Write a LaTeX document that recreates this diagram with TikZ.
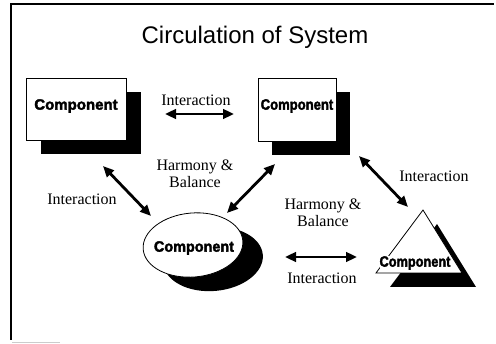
\documentclass[tikz,border=0pt]{standalone}
\usepackage{fontspec}
\setmainfont{Liberation Serif}
\newfontfamily\headfont{Liberation Sans}
\newfontfamily\compfont{Liberation Sans}[BoldFeatures={FakeBold=2.4}]
\usetikzlibrary{arrows.meta,shapes.geometric,shadows}
\begin{document}
\begin{tikzpicture}[x=1pt,y=-1pt,
  comp/.style={font=\compfont\bfseries\fontsize{15}{15}\selectfont, inner sep=0pt},
  lbl/.style={font=\fontsize{16}{17}\selectfont, align=center, inner sep=0pt},
  dbl/.style={line width=2.8pt, {Triangle[length=11pt,width=9.5pt]}-{Triangle[length=11pt,width=9.5pt]}},
  boxshape/.style={draw, fill=white, line width=0.8pt, inner sep=0pt, outer sep=0pt},
  blackshadow/.style={drop shadow={shadow xshift=#1, shadow yshift=-14pt, fill=black, opacity=1}},
]
\useasboundingbox (0,0) rectangle (496,344);
% frame
\draw[line width=1.2pt] (11,340) -- (11,4) -- (494,4);
\draw[gray!40, line width=0.8pt] (12,342) -- (60,342);

% title
\node[font=\headfont\fontsize{24}{26}\selectfont, anchor=base] (title) at (255,44) {Circulation of System};

% components
\node[boxshape, minimum width=100pt, minimum height=62pt, blackshadow=15pt] (c1) at (76,109) {};
\node[comp] (t1) at (76,106) {\scalebox{1.0}[1]{Component}};

\node[boxshape, minimum width=78pt, minimum height=63pt, blackshadow=14pt] (c2) at (297,109.5) {};
\node[comp] (t2) at (297,106) {\scalebox{0.87}[1]{Component}};

\node[boxshape, ellipse, minimum width=100pt, minimum height=64pt, rotate=5, blackshadow=20pt] (c3) at (193,245) {};
\node[comp] (t3) at (194,248) {\scalebox{0.96}[1]{Component}};

% triangle
\coordinate (tA) at (423,210);
\coordinate (tL) at (376,273);
\coordinate (tR) at (462,273);
\fill ([shift={(14,14)}]tA) -- ([shift={(14,14)}]tR) -- ([shift={(14,14)}]tL) -- cycle;
\draw[fill=white, line width=0.8pt, line join=miter] (tA) -- (tR) -- (tL) -- cycle;
\node[comp, fill=white] (t4) at (415,263) {\scalebox{0.85}[1]{Component}};

% arrows
\coordinate (a1s) at (165,114); \coordinate (a1e) at (234,114);
\coordinate (a2s) at (103,166); \coordinate (a2e) at (151,216);
\coordinate (a3s) at (275,164); \coordinate (a3e) at (227,213);
\coordinate (a4s) at (359,156); \coordinate (a4e) at (408,207);
\coordinate (a5s) at (285,257); \coordinate (a5e) at (357,257);
\draw[dbl] (a1s) -- (a1e);
\draw[dbl] (a2s) -- (a2e);
\draw[dbl] (a3s) -- (a3e);
\draw[dbl] (a4s) -- (a4e);
\draw[dbl] (a5s) -- (a5e);

% labels
\node[lbl] (l1) at (196,100) {Interaction};
\node[lbl] (l2) at (82,199) {Interaction};
\node[lbl] (h1) at (195,174) {Harmony \&\\Balance};
\node[lbl] (l3) at (434,176) {Interaction};
\node[lbl] (h2) at (323,213) {Harmony \&\\Balance};
\node[lbl] (l4) at (322,278) {Interaction};
\end{tikzpicture}
\end{document}
